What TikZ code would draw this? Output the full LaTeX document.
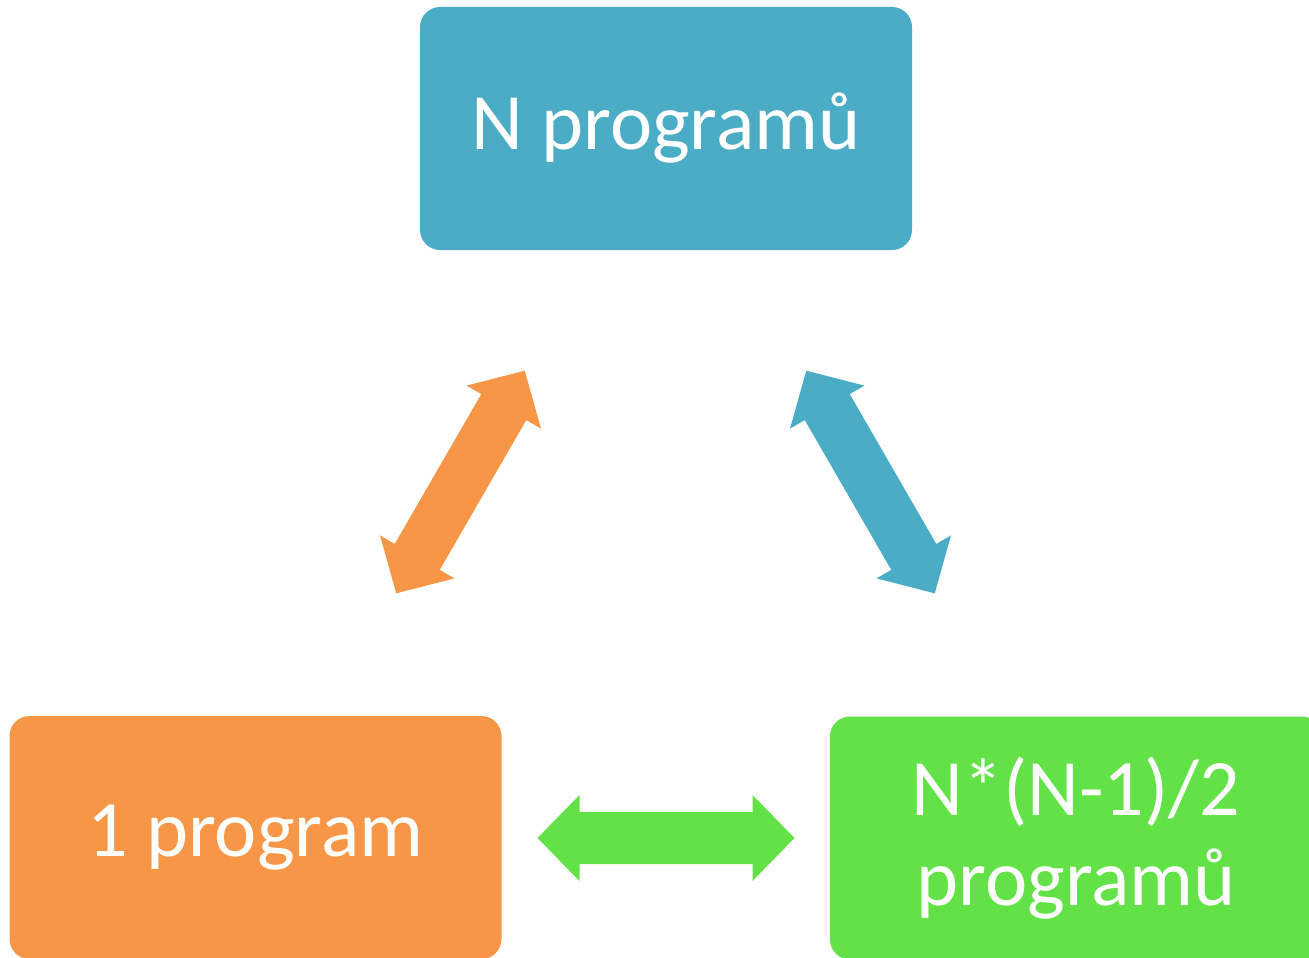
\documentclass[tikz,border=0pt]{standalone}
\usepackage{fontspec}
\setmainfont{Carlito}
\definecolor{myblue}{RGB}{75,172,198}
\definecolor{myorange}{RGB}{247,150,70}
\definecolor{mygreen}{RGB}{99,226,72}
\usetikzlibrary{positioning}

\begin{document}
\begin{tikzpicture}[x=0.5pt,y=-0.5pt,
    every node/.style={rounded corners=10pt,minimum width=246pt,minimum height=121.5pt,
      text=white,align=center,font=\fontsize{40}{45}\selectfont},
    dblarrow/.pic={\fill[sharp corners] (-128.5,0) -- (-86.5,43) -- (-86.5,26) -- (86.5,26) -- (86.5,43)
      -- (128.5,0) -- (86.5,-43) -- (86.5,-26) -- (-86.5,-26) -- (-86.5,-43) -- cycle;}
    ]
    \clip (0,0) rectangle (1309,957);

    \node (many) [fill=myblue] at (666,128.5) {N programů};
    \node (one) [fill=myorange] at (255.5,837.5) {1 program};
    \node (pairs) [fill=mygreen] at (1076,838) {N*(N-1)/2\\programů};

    % the arrows
    \pic[fill=myorange,rotate=60] at (460.5,482) {dblarrow};
    \pic[fill=myblue,rotate=-60] at (870.5,482) {dblarrow};
    \pic[fill=mygreen] at (666,838) {dblarrow};
\end{tikzpicture}
\end{document}
